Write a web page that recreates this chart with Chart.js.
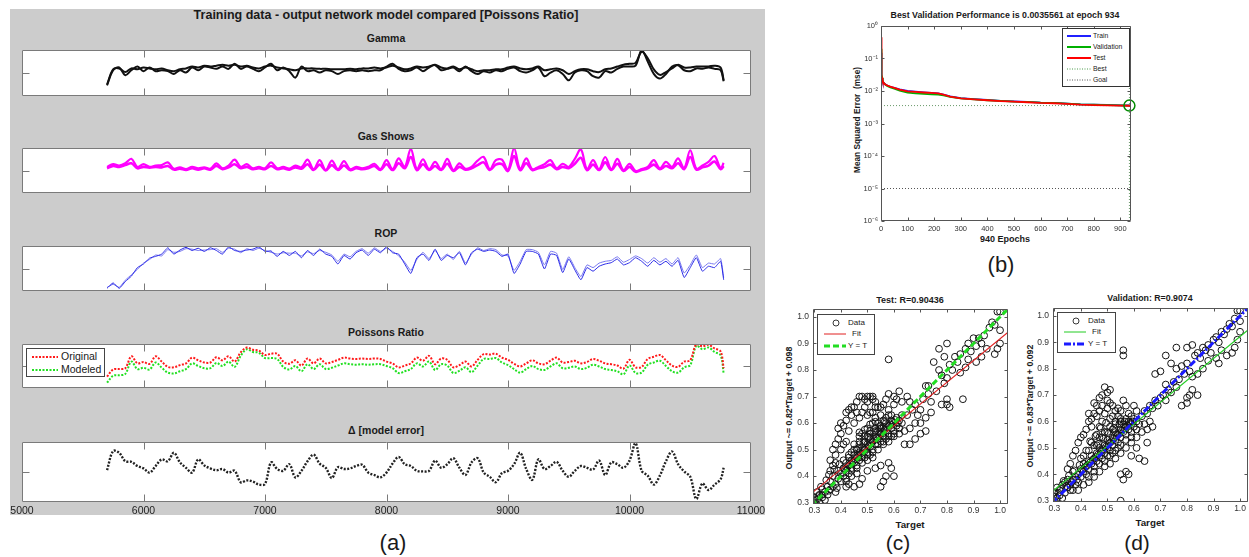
<!DOCTYPE html>
<html><head><meta charset="utf-8">
<script src="https://cdn.jsdelivr.net/npm/chart.js@4.4.1/dist/chart.umd.min.js"></script>
<style>
html,body{margin:0;padding:0;background:#fff;}
body{width:1249px;height:557px;position:relative;overflow:hidden;font-family:"Liberation Sans",Arial,Helvetica,sans-serif;color:#1a1a1a;}
canvas{position:absolute;}
.c{position:absolute;transform:translate(-50%,-50%);white-space:nowrap;}
.b{font-weight:bold;}
.lg{position:absolute;background:#fff;border:1px solid #444;z-index:5;}
.lg div{position:absolute;white-space:nowrap;}
.lg svg{position:absolute;left:0;top:0;}
.rot{position:absolute;transform:translate(-50%,-50%) rotate(-90deg);white-space:nowrap;font-weight:bold;}
</style></head><body>
<div style="position:absolute;left:10px;top:9px;width:755px;height:506px;background:#cccccc"></div>
<div class="c b" style="left:386px;top:15px;font-size:12.5px">Training data - output network model compared [Poissons Ratio]</div>
<div class="c b" style="left:386px;top:38px;font-size:10.5px">Gamma</div>
<div class="c b" style="left:386px;top:136px;font-size:10.5px">Gas Shows</div>
<div class="c b" style="left:386px;top:233px;font-size:10.5px">ROP</div>
<div class="c b" style="left:386px;top:332px;font-size:10.5px">Poissons Ratio</div>
<div class="c b" style="left:386px;top:430px;font-size:10.5px">Δ [model error]</div>
<div class="c" style="left:393px;top:543px;font-size:22px">(a)</div>

<div class="lg" style="left:26px;top:348px;width:77px;height:27px">
 <svg width="77" height="27"><line x1="5" y1="8" x2="31" y2="8" stroke="#ff1a1a" stroke-width="2" stroke-dasharray="2,1.5"/><line x1="5" y1="21" x2="31" y2="21" stroke="#22e022" stroke-width="2" stroke-dasharray="2,1.5"/></svg>
 <div style="left:34px;top:1px;font-size:10.5px;line-height:13px">Original</div>
 <div style="left:34px;top:14px;font-size:10.5px;line-height:13px">Modeled</div>
</div>

<div class="c b" style="left:1005px;top:15px;font-size:8.8px">Best Validation Performance is 0.0035561 at epoch 934</div>
<div class="c b" style="left:1005px;top:239px;font-size:9px">940 Epochs</div>
<div class="rot" style="left:857px;top:120px;font-size:8.3px">Mean Squared Error&nbsp;&nbsp;(mse)</div>
<div class="c" style="left:1001px;top:265px;font-size:22px">(b)</div>
<div class="lg" style="left:1062px;top:28px;width:66px;height:57px;border-color:#333">
 <svg width="66" height="57">
  <line x1="4" y1="7" x2="28" y2="7" stroke="#2020ff" stroke-width="2"/>
  <line x1="4" y1="18" x2="28" y2="18" stroke="#00b000" stroke-width="2"/>
  <line x1="4" y1="29" x2="28" y2="29" stroke="#ff0000" stroke-width="2"/>
  <line x1="4" y1="40" x2="28" y2="40" stroke="#4a9a4a" stroke-width="1" stroke-dasharray="1,1.5"/>
  <line x1="4" y1="51" x2="28" y2="51" stroke="#555" stroke-width="1" stroke-dasharray="1,1.5"/>
 </svg>
 <div style="left:30px;top:2px;font-size:6.8px;line-height:9px">Train</div>
 <div style="left:30px;top:13px;font-size:6.8px;line-height:9px">Validation</div>
 <div style="left:30px;top:24px;font-size:6.8px;line-height:9px">Test</div>
 <div style="left:30px;top:35px;font-size:6.8px;line-height:9px">Best</div>
 <div style="left:30px;top:46px;font-size:6.8px;line-height:9px">Goal</div>
</div>

<div class="c b" style="left:910px;top:300px;font-size:9px">Test: R=0.90436</div>
<div class="c b" style="left:910px;top:524px;font-size:9.8px">Target</div>
<div class="rot" style="left:789px;top:408px;font-size:8.8px">Output ~= 0.82*Target + 0.098</div>
<div class="c" style="left:898px;top:543px;font-size:21px">(c)</div>
<div class="lg" style="left:817px;top:314px;width:56px;height:39px">
 <svg width="56" height="39">
  <circle cx="18" cy="8" r="3" fill="none" stroke="#222" stroke-width="0.9"/>
  <line x1="6" y1="19" x2="28" y2="19" stroke="#e02020" stroke-width="1"/>
  <line x1="6" y1="31" x2="28" y2="31" stroke="#22dd22" stroke-width="3" stroke-dasharray="6,3"/>
 </svg>
 <div style="left:30px;top:3px;font-size:8px;line-height:10px">Data</div>
 <div style="left:34px;top:14px;font-size:8px;line-height:10px">Fit</div>
 <div style="left:30px;top:26px;font-size:8px;line-height:10px">Y = T</div>
</div>

<div class="c b" style="left:1150px;top:298px;font-size:8.8px">Validation: R=0.9074</div>
<div class="c b" style="left:1150px;top:522px;font-size:9.8px">Target</div>
<div class="rot" style="left:1030px;top:406px;font-size:8.8px">Output ~= 0.83*Target + 0.092</div>
<div class="c" style="left:1137px;top:543px;font-size:21px">(d)</div>
<div class="lg" style="left:1057px;top:312px;width:57px;height:39px">
 <svg width="57" height="39">
  <circle cx="18" cy="8" r="3" fill="none" stroke="#222" stroke-width="0.9"/>
  <line x1="6" y1="19" x2="28" y2="19" stroke="#22cc22" stroke-width="1"/>
  <line x1="6" y1="31" x2="28" y2="31" stroke="#1a1aff" stroke-width="3" stroke-dasharray="7,2,2,2"/>
 </svg>
 <div style="left:30px;top:3px;font-size:8px;line-height:10px">Data</div>
 <div style="left:34px;top:14px;font-size:8px;line-height:10px">Fit</div>
 <div style="left:30px;top:26px;font-size:8px;line-height:10px">Y = T</div>
</div>

<script>
// ---------------- DATA ----------------
const depth = [
 5700,5750,5800,5850,5900,5950,6000,6050,6100,6150,
 6200,6250,6300,6350,6400,6450,6500,6550,6600,6650,
 6700,6750,6800,6850,6900,6950,7000,7050,7100,7150,
 7200,7250,7300,7350,7400,7450,7500,7550,7600,7650,
 7700,7750,7800,7850,7900,7950,8000,8050,8100,8150,
 8200,8250,8300,8350,8400,8450,8500,8550,8600,8650,
 8700,8750,8800,8850,8900,8950,9000,9050,9100,9150,
 9200,9250,9300,9350,9400,9450,9500,9550,9600,9650,
 9700,9750,9800,9850,9900,9950,10000,10050,10100,10150,
 10200,10250,10300,10350,10400,10450,10500,10550,10600,10650,
 10700,10750,10775];
const depthTicks = [6000,7000,8000,9000,10000];
const depthLabels = [5000,6000,7000,8000,9000,10000,11000];

const gammaOrig = [
 23,56,62,45,56,64,54,62,54,56,
 54,48,56,51,62,56,64,62,59,64,
 59,70,59,64,59,54,62,70,56,62,
 54,40,64,54,56,51,56,54,48,54,
 56,54,56,54,56,56,64,70,59,54,
 56,62,54,62,67,56,59,62,54,64,
 54,48,54,51,56,54,59,62,54,51,
 56,62,43,51,56,48,34,51,56,54,
 43,40,54,51,59,64,64,66,100,75,
 48,38,48,64,67,56,54,60,59,62,
 59,56,32];
const gammaModel = [
 25,58,60,52,60,58,62,60,58,60,
 56,54,58,60,64,62,66,64,66,68,
 66,68,64,66,62,60,64,66,62,60,
 58,56,60,60,60,59,59,58,58,58,
 59,58,60,60,62,60,62,66,62,58,
 60,64,62,64,68,62,60,64,58,62,
 58,54,56,56,58,58,62,64,60,58,
 60,64,56,58,60,56,48,54,58,58,
 54,52,58,60,64,68,70,72,96,82,
 58,46,52,60,68,62,62,64,64,64,
 66,62,34];
const gasOrig = [
 58,64,61,66,76,58,64,58,61,62,
 68,54,57,53,58,55,57,54,66,55,
 61,74,58,64,55,58,55,68,55,58,
 54,61,57,74,53,73,51,72,53,71,
 53,58,55,58,65,53,73,53,77,58,
 98,53,75,53,69,53,76,51,66,54,
 58,72,80,53,73,74,51,99,53,77,
 53,58,64,73,55,65,58,76,97,53,
 73,53,80,53,76,51,65,49,53,58,
 73,55,69,58,77,55,95,54,61,69,
 82,55,67];
const gasModel = [
 55,60,58,62,66,55,58,56,58,57,
 60,52,54,51,55,52,55,52,60,53,
 57,64,55,58,53,55,53,60,53,55,
 52,57,54,64,51,63,50,62,51,61,
 51,55,53,55,60,51,64,51,66,55,
 80,51,64,51,60,51,65,49,58,52,
 55,62,68,51,63,64,49,82,51,66,
 51,55,58,63,53,58,55,65,78,51,
 63,51,68,51,65,49,58,47,51,55,
 63,53,60,55,66,53,80,52,57,61,
 70,53,60];
const ropOrig = [
 6,18,6,21,33,52,60,73,77,82,
 96,82,91,97,90,95,88,96,90,82,
 98,90,88,91,93,98,88,89,77,88,
 79,88,74,90,79,93,82,77,60,79,
 71,85,91,79,93,85,98,85,82,60,
 39,74,82,68,93,68,79,74,85,58,
 85,93,88,91,88,77,82,39,60,88,
 88,82,49,82,79,41,71,47,25,52,
 44,55,60,63,71,58,63,74,66,55,
 68,58,66,55,68,30,52,74,44,55,
 52,66,25];
const ropModel = [
 8,15,8,24,36,48,62,70,80,78,
 92,86,88,94,93,90,91,92,94,86,
 95,93,85,94,90,95,90,86,82,85,
 84,84,78,87,83,90,86,80,66,82,
 76,88,94,84,96,88,95,88,78,64,
 46,70,86,72,90,72,82,70,88,62,
 82,96,90,94,92,80,78,46,66,92,
 92,86,58,88,84,48,76,52,32,58,
 52,62,66,68,76,64,70,78,72,62,
 74,64,72,60,74,40,58,80,52,62,
 60,72,30];
const poissonOrig = [
 26,42,43,45,72,56,59,55,72,60,
 48,47,52,56,69,63,58,58,70,63,
 72,60,81,92,87,85,75,78,78,60,
 55,63,51,67,56,67,56,59,64,69,
 67,66,67,66,67,66,60,56,47,51,
 56,69,62,73,54,67,64,47,52,60,
 49,64,77,76,78,69,64,55,49,56,
 63,56,54,62,69,58,59,62,56,59,
 66,62,56,54,51,44,64,47,48,66,
 71,75,63,51,48,60,63,100,95,98,
 90,83,45];
const poissonModel = [
 12,28,29,32,60,43,46,42,58,46,
 35,33,38,43,56,50,45,45,57,50,
 60,48,73,88,82,80,68,68,66,48,
 42,50,38,54,43,54,43,46,51,56,
 54,53,54,53,54,54,50,45,34,38,
 43,56,49,60,41,54,51,34,39,47,
 36,51,66,66,68,58,52,43,35,43,
 50,43,41,49,56,45,46,49,43,46,
 53,49,43,41,38,31,51,34,35,53,
 58,62,50,38,35,47,52,96,88,92,
 82,74,33];
const modelError = [
 53,85,82,68,67,60,56,49,60,71,
 68,82,66,57,49,71,61,56,53,55,
 49,52,33,36,34,29,30,66,55,52,
 63,41,52,68,79,64,57,40,58,55,
 56,60,62,49,45,41,49,64,75,63,
 60,52,51,52,69,57,63,73,57,45,
 66,73,49,42,33,48,52,63,82,55,
 37,71,55,60,67,52,42,52,60,57,
 54,69,45,66,63,57,69,98,52,44,
 29,44,68,84,63,51,42,5,31,20,
 29,38,57];

// (b) training performance
const epochs = [0,1,2,3,4,6,8,12,18,25,35,50,70,100,130,160,190,215,235,260,300,350,400,450,500,550,600,650,700,750,800,850,900,934,940];
const perfTrain = [0.15,0.08,0.045,0.03,0.025,0.021,0.019,0.017,0.0155,0.0145,0.0135,0.0125,0.0112,0.0100,0.0095,0.0091,0.0088,0.0085,0.0078,0.0068,0.0060,0.0056,0.0053,0.0050,0.0048,0.0046,0.0044,0.0043,0.0041,0.0039,0.0038,0.00372,0.00362,0.00358,0.00357];
const perfVal = [0.2,0.09,0.05,0.032,0.026,0.021,0.019,0.0168,0.0152,0.014,0.013,0.0118,0.0102,0.0089,0.0084,0.0081,0.0079,0.0077,0.0073,0.0066,0.0059,0.0055,0.0052,0.0050,0.0047,0.0046,0.0044,0.0043,0.0041,0.0039,0.0038,0.0037,0.0036,0.0035561,0.00356];
const perfTest = [0.45,0.12,0.05,0.03,0.025,0.021,0.019,0.017,0.0156,0.0146,0.0136,0.0124,0.011,0.0098,0.0094,0.009,0.0087,0.0084,0.0077,0.0067,0.0059,0.0055,0.0052,0.0049,0.0047,0.0045,0.0043,0.0042,0.0040,0.0038,0.0037,0.0036,0.00355,0.00352,0.00351];
const bestEpoch = 934, bestPerf = 0.0035561, goalPerf = 1e-5;
const epochTicks = [0,100,200,300,400,500,600,700,800,900];
const mseTicks = [1e-6,1e-5,1e-4,1e-3,1e-2,1e-1,1];

// (c) test regression
const testPoints = [
 [0.30,0.30],[0.30,0.32],[0.31,0.31],[0.31,0.34],[0.32,0.30],[0.32,0.33],[0.33,0.32],[0.33,0.35],[0.34,0.31],[0.34,0.34],
 [0.35,0.36],[0.35,0.33],[0.36,0.35],[0.36,0.38],[0.37,0.36],[0.37,0.40],[0.38,0.37],[0.38,0.34],[0.39,0.39],[0.39,0.42],
 [0.40,0.38],[0.40,0.41],[0.41,0.43],[0.41,0.40],[0.42,0.42],[0.42,0.45],[0.43,0.41],[0.43,0.44],[0.44,0.46],[0.44,0.43],
 [0.45,0.45],[0.45,0.48],[0.46,0.47],[0.46,0.44],[0.47,0.49],[0.47,0.46],[0.48,0.48],[0.48,0.51],[0.49,0.50],[0.49,0.47],
 [0.50,0.52],[0.50,0.49],[0.51,0.51],[0.51,0.54],[0.52,0.50],[0.52,0.53],[0.53,0.55],[0.53,0.52],[0.54,0.54],[0.54,0.57],
 [0.55,0.53],[0.55,0.56],[0.56,0.58],[0.56,0.55],[0.57,0.57],[0.57,0.60],[0.58,0.56],[0.58,0.59],[0.59,0.58],[0.59,0.61],
 [0.60,0.60],[0.60,0.57],[0.61,0.62],[0.61,0.59],[0.62,0.61],[0.62,0.58],[0.63,0.60],[0.63,0.63],
 [0.45,0.52],[0.47,0.55],[0.48,0.56],[0.50,0.58],[0.52,0.60],[0.53,0.62],[0.55,0.63],[0.56,0.61],[0.58,0.63],[0.50,0.55],
 [0.49,0.53],[0.51,0.57],[0.54,0.60],[0.46,0.50],[0.44,0.49],[0.43,0.48],[0.42,0.39],[0.44,0.40],[0.46,0.41],[0.48,0.45],
 [0.50,0.46],[0.52,0.47],[0.54,0.50],[0.56,0.52],[0.58,0.53],[0.60,0.55],[0.62,0.56],[0.64,0.57],[0.66,0.58],[0.68,0.60],
 [0.55,0.59],[0.57,0.54],[0.59,0.55],[0.53,0.58],[0.51,0.48],[0.47,0.52],
 [0.45,0.66],[0.46,0.68],[0.47,0.70],[0.48,0.70],[0.49,0.69],[0.50,0.68],[0.51,0.70],[0.52,0.69],[0.53,0.66],[0.44,0.63],
 [0.43,0.65],[0.42,0.61],[0.41,0.59],[0.40,0.56],[0.39,0.54],[0.38,0.52],[0.37,0.50],[0.36,0.46],[0.38,0.48],[0.40,0.50],
 [0.42,0.53],[0.43,0.57],[0.45,0.60],[0.48,0.64],[0.50,0.63],[0.52,0.64],[0.54,0.66],[0.56,0.67],[0.58,0.71],[0.58,0.84],
 [0.60,0.67],[0.62,0.72],[0.63,0.68],
 [0.45,0.36],[0.47,0.37],[0.48,0.39],[0.50,0.42],[0.53,0.43],[0.55,0.36],[0.56,0.38],[0.57,0.40],[0.59,0.43],[0.60,0.40],
 [0.58,0.45],[0.55,0.44],[0.43,0.37],[0.42,0.36],[0.64,0.52],[0.66,0.52],[0.68,0.54],[0.70,0.56],[0.72,0.57],[0.70,0.60],
 [0.72,0.62],[0.74,0.64],
 [0.65,0.63],[0.67,0.65],[0.68,0.67],[0.70,0.65],[0.71,0.69],[0.72,0.74],[0.73,0.71],[0.74,0.68],[0.76,0.72],[0.77,0.80],
 [0.78,0.78],[0.79,0.75],[0.80,0.77],[0.81,0.82],[0.82,0.80],[0.83,0.85],[0.84,0.83],[0.85,0.86],[0.86,0.69],[0.80,0.69],
 [0.80,0.67],[0.81,0.66],[0.78,0.67],[0.79,0.85],[0.77,0.88],[0.80,0.90],[0.75,0.83],[0.73,0.74],[0.69,0.63],[0.66,0.68],
 [0.65,0.70],
 [0.87,0.88],[0.88,0.90],[0.89,0.87],[0.90,0.92],[0.91,0.89],[0.92,0.92],[0.93,0.90],[0.94,0.93],[0.95,0.88],[0.96,0.96],
 [0.97,0.98],[0.98,0.97],[0.99,1.02],[1.00,1.02],[1.00,0.95],[1.00,0.90],[0.99,0.88],[0.98,0.86],[0.93,0.85],[0.91,0.83],
 [0.87,0.81],[0.85,0.79],[0.88,0.84],
 [0.405,0.415],[0.415,0.425],[0.425,0.435],[0.435,0.445],[0.445,0.455],[0.455,0.465],[0.465,0.475],[0.475,0.485],[0.485,0.495],[0.495,0.505],
 [0.505,0.515],[0.515,0.525],[0.525,0.535],[0.535,0.545],[0.545,0.555],[0.555,0.565],[0.565,0.575],[0.575,0.585],[0.585,0.595],[0.595,0.605],
 [0.605,0.612],[0.615,0.60],[0.41,0.46],[0.43,0.47],[0.45,0.50],[0.47,0.53],[0.49,0.55],[0.51,0.56],[0.53,0.57],[0.55,0.58],
 [0.57,0.62],[0.59,0.63],[0.42,0.38],[0.44,0.42],[0.46,0.43],[0.48,0.47],[0.50,0.48],[0.52,0.49],[0.54,0.52],[0.56,0.53],
 [0.58,0.55],[0.60,0.56],[0.465,0.505],[0.485,0.525],[0.505,0.545],[0.525,0.565],[0.545,0.585],[0.565,0.605],[0.49,0.575],[0.51,0.595],
 [0.53,0.605],[0.47,0.565],[0.395,0.445],[0.375,0.425],[0.355,0.405],[0.345,0.385],[0.325,0.36],[0.315,0.325],[0.305,0.31],[0.33,0.33],
 [0.355,0.345],[0.385,0.355],[0.44,0.66],[0.46,0.64],[0.47,0.62],[0.49,0.66],[0.51,0.64],[0.53,0.68],[0.55,0.66],[0.42,0.64],
 [0.40,0.60],[0.39,0.58],[0.41,0.52],[0.38,0.45],[0.36,0.42],[0.37,0.44],[0.58,0.65],[0.60,0.70],[0.61,0.69],[0.57,0.69],
 [0.52,0.70],[0.50,0.70]];
const testFitX = [0.29, 1.03], testFitY = [0.3358, 0.9426];
const identityX = [0.29, 1.03], identityY = [0.29, 1.03];

// (d) validation regression
const valPoints = [
 [0.30,0.30],[0.30,0.33],[0.31,0.31],[0.31,0.35],[0.32,0.32],[0.32,0.34],[0.33,0.31],[0.33,0.36],[0.34,0.33],[0.34,0.37],
 [0.35,0.35],[0.35,0.38],[0.36,0.36],[0.36,0.34],[0.37,0.38],[0.37,0.41],[0.38,0.39],[0.38,0.36],[0.39,0.40],[0.39,0.37],
 [0.40,0.42],[0.40,0.39],[0.41,0.41],[0.41,0.44],[0.42,0.43],[0.42,0.40],[0.43,0.45],[0.43,0.42],[0.44,0.44],[0.44,0.47],
 [0.45,0.46],[0.45,0.43],[0.46,0.48],[0.46,0.45],[0.47,0.47],[0.47,0.50],[0.48,0.49],[0.48,0.46],[0.49,0.51],[0.49,0.48],
 [0.50,0.50],[0.50,0.53],[0.51,0.52],[0.51,0.49],[0.52,0.54],[0.52,0.51],[0.53,0.53],[0.53,0.56],[0.54,0.55],[0.54,0.52],
 [0.55,0.57],[0.55,0.54],[0.56,0.56],[0.56,0.59],[0.57,0.58],[0.57,0.55],[0.58,0.60],[0.58,0.57],[0.59,0.59],[0.59,0.56],
 [0.60,0.61],[0.60,0.58],[0.61,0.60],[0.62,0.59],
 [0.40,0.46],[0.42,0.49],[0.44,0.52],[0.46,0.55],[0.47,0.58],[0.48,0.60],[0.49,0.63],[0.50,0.65],[0.45,0.63],[0.46,0.66],
 [0.47,0.69],[0.48,0.70],[0.49,0.73],[0.50,0.71],[0.51,0.67],[0.52,0.66],[0.53,0.64],[0.54,0.62],[0.55,0.64],[0.56,0.68],
 [0.57,0.66],[0.58,0.63],[0.60,0.66],[0.61,0.64],[0.43,0.60],[0.42,0.57],[0.41,0.55],[0.39,0.52],[0.38,0.49],[0.37,0.47],
 [0.36,0.44],[0.35,0.42],[0.40,0.54],[0.44,0.58],[0.51,0.61],[0.53,0.59],[0.55,0.61],[0.52,0.57],[0.50,0.56],[0.48,0.54],
 [0.46,0.51],[0.56,0.87],[0.56,0.85],
 [0.37,0.34],[0.39,0.34],[0.41,0.36],[0.43,0.37],[0.45,0.39],[0.47,0.41],[0.49,0.43],[0.51,0.44],[0.53,0.46],[0.55,0.48],
 [0.57,0.50],[0.59,0.52],[0.61,0.54],[0.63,0.56],[0.65,0.57],[0.67,0.58],[0.66,0.60],[0.64,0.59],[0.55,0.40],[0.56,0.38],
 [0.57,0.41],[0.58,0.40],[0.55,0.30],[0.62,0.46],[0.64,0.45],[0.65,0.52],[0.61,0.50],[0.59,0.47],[0.50,0.47],[0.52,0.48],
 [0.54,0.50],
 [0.63,0.62],[0.64,0.64],[0.65,0.63],[0.66,0.66],[0.67,0.65],[0.68,0.68],[0.69,0.66],[0.70,0.69],[0.71,0.70],[0.72,0.68],
 [0.72,0.74],[0.73,0.72],[0.74,0.71],[0.75,0.75],[0.76,0.73],[0.77,0.76],[0.68,0.78],[0.70,0.79],[0.72,0.85],[0.74,0.82],
 [0.76,0.80],[0.78,0.81],[0.79,0.78],[0.80,0.82],[0.81,0.79],[0.80,0.69],[0.80,0.67],[0.81,0.70],[0.78,0.66],[0.82,0.72],
 [0.84,0.70],[0.76,0.88],[0.80,0.88],[0.83,0.85],[0.82,0.89],[0.84,0.86],
 [0.85,0.84],[0.86,0.88],[0.87,0.87],[0.88,0.89],[0.89,0.86],[0.90,0.91],[0.91,0.92],[0.92,0.90],[0.93,0.94],[0.94,0.93],
 [0.95,0.95],[0.96,0.97],[0.97,0.96],[0.98,0.99],[0.99,1.02],[1.00,1.02],[1.00,0.98],[1.00,0.94],[0.99,0.91],[0.98,0.88],
 [0.97,0.86],[0.95,0.85],[0.93,0.87],[0.92,0.82],[0.91,0.84],[0.88,0.83],[0.86,0.80],[0.84,0.78],[0.82,0.77],
 [0.405,0.415],[0.415,0.425],[0.425,0.435],[0.435,0.445],[0.445,0.455],[0.455,0.465],[0.465,0.475],[0.475,0.485],[0.485,0.495],[0.495,0.505],
 [0.505,0.515],[0.515,0.525],[0.525,0.535],[0.535,0.545],[0.545,0.555],[0.555,0.565],[0.565,0.575],[0.575,0.585],[0.585,0.595],[0.595,0.60],
 [0.41,0.47],[0.43,0.49],[0.45,0.51],[0.47,0.54],[0.49,0.56],[0.51,0.58],[0.53,0.60],[0.55,0.60],[0.57,0.61],[0.59,0.62],
 [0.43,0.39],[0.45,0.41],[0.47,0.44],[0.49,0.45],[0.51,0.47],[0.53,0.49],[0.55,0.51],[0.57,0.53],[0.59,0.54],[0.61,0.57],
 [0.465,0.515],[0.485,0.535],[0.505,0.555],[0.525,0.575],[0.545,0.59],[0.565,0.60],[0.475,0.575],[0.495,0.595],[0.455,0.545],[0.435,0.525],
 [0.395,0.435],[0.375,0.415],[0.355,0.395],[0.335,0.375],[0.325,0.345],[0.315,0.33],[0.305,0.315],[0.345,0.355],[0.365,0.37],[0.385,0.38],
 [0.44,0.61],[0.46,0.62],[0.48,0.66],[0.50,0.68],[0.52,0.62],[0.54,0.65],[0.47,0.64],[0.45,0.67],[0.43,0.63],[0.51,0.72]];
const valFitX = [0.29, 1.03], valFitY = [0.3327, 0.9469];
const regTicks = [0.3,0.4,0.5,0.6,0.7,0.8,0.9,1];

// ---------------- RENDERING ----------------
const F = '"Liberation Sans", Arial, Helvetica, sans-serif';
Chart.defaults.font.family = F;
Chart.defaults.color = '#222';

const frame = {
  id: 'frame',
  beforeDraw(chart, args, o) {
    const {ctx, chartArea: a} = chart;
    ctx.save(); ctx.fillStyle = o.bg || '#fff';
    ctx.fillRect(a.left, a.top, a.right - a.left, a.bottom - a.top);
    ctx.restore();
  },
  afterDraw(chart, args, o) {
    const {ctx, chartArea: a, scales} = chart;
    ctx.save(); ctx.strokeStyle = o.color || '#555'; ctx.lineWidth = 1;
    const L = Math.round(a.left) + 0.5, R = Math.round(a.right) - 0.5, T = Math.round(a.top) + 0.5, B = Math.round(a.bottom) - 0.5;
    ctx.beginPath();
    ctx.rect(L, T, R - L, B - T);
    (o.xTicks || []).forEach(v => { const p = Math.round(scales.x.getPixelForValue(v)) + 0.5; ctx.moveTo(p, T); ctx.lineTo(p, T + o.len); ctx.moveTo(p, B); ctx.lineTo(p, B - o.len); });
    (o.yTicks || []).forEach(v => { const p = Math.round(scales.y.getPixelForValue(v)) + 0.5; ctx.moveTo(L, p); ctx.lineTo(L + o.len, p); ctx.moveTo(R, p); ctx.lineTo(R - o.len, p); });
    ctx.stroke(); ctx.restore();
  }
};

function addCanvas(l, t, w, h) {
  const c = document.createElement('canvas');
  c.width = w; c.height = h;
  c.style.left = l + 'px'; c.style.top = t + 'px';
  c.style.width = w + 'px'; c.style.height = h + 'px';
  document.body.appendChild(c);
  return c;
}
const pts = ys => depth.map((d, i) => ({x: d, y: ys[i]}));
const pairs = (xs, ys) => xs.map((x, i) => ({x, y: ys[i]}));

function subplot(box, datasets, showX) {
  const padL = 18, padR = 20, padT = 3, padB = showX ? 19 : 3;
  const cv = addCanvas(box.l - padL, box.t - padT, box.w + padL + padR, box.h + padT + padB);
  new Chart(cv, {
    type: 'line',
    data: {datasets},
    options: {
      responsive: false, animation: false, devicePixelRatio: 1,
      layout: {padding: {left: padL, right: padR, top: padT, bottom: showX ? 3 : padB}},
      plugins: {legend: {display: false}, tooltip: {enabled: false},
        frame: {xTicks: depthTicks, yTicks: [50], len: 7, color: '#7a7a7a'}},
      elements: {point: {radius: 0}, line: {tension: 0.35}},
      scales: {
        x: {type: 'linear', min: 5000, max: 11000, display: showX,
            grid: {display: false, drawTicks: false}, border: {display: false},
            afterFit: s => { s.height = 16; },
            afterBuildTicks: s => { s.ticks = depthLabels.map(v => ({value: v})); },
            ticks: {autoSkip: false, maxRotation: 0, padding: 3, color: '#222', font: {size: 10.5},
                    callback: v => String(v)}},
        y: {min: 0, max: 100, display: false}
      }
    },
    plugins: [frame]
  });
}

const X0 = 22, W = 729;
subplot({l: X0, t: 50, w: W, h: 62}, [
  {data: pts(gammaOrig), borderColor: '#111', borderWidth: 2},
  {data: pts(gammaModel), borderColor: '#111', borderWidth: 2}
], false);
subplot({l: X0, t: 148, w: W, h: 61}, [
  {data: pts(gasOrig), borderColor: '#ff00ff', borderWidth: 2.2},
  {data: pts(gasModel), borderColor: '#ff00ff', borderWidth: 2.6}
], false);
subplot({l: X0, t: 246, w: W, h: 61}, [
  {data: pts(ropOrig), borderColor: '#2a2ae8', borderWidth: 1, tension: 0.15},
  {data: pts(ropModel), borderColor: '#7878f0', borderWidth: 1, tension: 0.15}
], false);
subplot({l: X0, t: 344, w: W, h: 60}, [
  {data: pts(poissonOrig), borderColor: '#ff1a1a', borderWidth: 2, borderDash: [2, 1.5]},
  {data: pts(poissonModel), borderColor: '#22e022', borderWidth: 2, borderDash: [2, 1.5]}
], false);
subplot({l: X0, t: 442, w: W, h: 60}, [
  {data: pts(modelError), borderColor: '#222', borderWidth: 2.4, borderDash: [2, 1.5]}
], true);

// (b)
const sup = {'-': '⁻', '0': '⁰', '1': '¹', '2': '²', '3': '³', '4': '⁴', '5': '⁵', '6': '⁶'};
(function () {
  const cv = addCanvas(845, 18, 300, 224);
  new Chart(cv, {
    type: 'line',
    data: {datasets: [
      {data: [{x: bestEpoch, y: bestPerf}], showLine: false, pointRadius: 5.5, pointBorderWidth: 1.5,
       pointBorderColor: '#008a00', pointBackgroundColor: 'rgba(0,0,0,0)', clip: false, order: 0},
      {data: pairs(epochs, perfTest), borderColor: '#ff0000', borderWidth: 1.8, order: 1},
      {data: pairs(epochs, perfVal), borderColor: '#00b000', borderWidth: 1.8, order: 2},
      {data: pairs(epochs, perfTrain), borderColor: '#2020ff', borderWidth: 1.8, order: 3},
      {data: [{x: 0, y: bestPerf}, {x: 940, y: bestPerf}], borderColor: '#6a9a6a', borderWidth: 1, borderDash: [1, 2], order: 4},
      {data: [{x: bestEpoch, y: 1e-6}, {x: bestEpoch, y: 1}], borderColor: '#6a9a6a', borderWidth: 1, borderDash: [1, 2], order: 4},
      {data: [{x: 0, y: goalPerf}, {x: 940, y: goalPerf}], borderColor: '#555', borderWidth: 1, borderDash: [1, 2], order: 4}
    ]},
    options: {
      responsive: false, animation: false, devicePixelRatio: 1,
      layout: {padding: {left: 0, right: 14, top: 8, bottom: 0}},
      plugins: {legend: {display: false}, tooltip: {enabled: false},
        frame: {xTicks: epochTicks, yTicks: mseTicks, len: 3, color: '#555'}},
      elements: {point: {radius: 0}, line: {tension: 0}},
      scales: {
        x: {type: 'linear', min: 0, max: 940, grid: {display: false, drawTicks: false}, border: {display: false},
            afterFit: s => { s.height = 21; },
            afterBuildTicks: s => { s.ticks = epochTicks.map(v => ({value: v})); },
            ticks: {autoSkip: false, maxRotation: 0, padding: 3, color: '#333', font: {size: 7.5}}},
        y: {type: 'logarithmic', min: 1e-6, max: 1, grid: {display: false, drawTicks: false}, border: {display: false},
            afterFit: s => { s.width = 36; },
            afterBuildTicks: s => { s.ticks = mseTicks.map(v => ({value: v})); },
            ticks: {autoSkip: false, padding: 3, color: '#333', font: {size: 7.5},
              callback: v => '10' + String(Math.round(Math.log10(v))).split('').map(ch => sup[ch]).join('')}}
      }
    },
    plugins: [frame]
  });
})();

function regression(l, t, w, h, points, fitY, fitColor, idDash, idColor, fitX) {
  const cv = addCanvas(l, t, w, h);
  new Chart(cv, {
    type: 'scatter',
    data: {datasets: [
      {type: 'line', data: pairs(identityX, identityY), borderColor: idColor, borderWidth: 3, borderDash: idDash, pointRadius: 0, order: 0},
      {type: 'line', data: pairs(fitX, fitY), borderColor: fitColor, borderWidth: 1.1, pointRadius: 0, order: 1},
      {data: points.map(p => ({x: p[0], y: p[1]})), pointRadius: 3.4, pointBorderWidth: 1,
       pointBorderColor: '#151515', pointBackgroundColor: 'rgba(0,0,0,0)', order: 2}
    ]},
    options: {
      responsive: false, animation: false, devicePixelRatio: 1,
      layout: {padding: {left: 0, right: 7, top: 11, bottom: 0}},
      plugins: {legend: {display: false}, tooltip: {enabled: false},
        frame: {xTicks: regTicks, yTicks: regTicks, len: 3, color: '#555'}},
      scales: {
        x: {type: 'linear', min: 0.295, max: 1.03, grid: {display: false, drawTicks: false}, border: {display: false},
            afterFit: s => { s.height = 14; },
            afterBuildTicks: s => { s.ticks = regTicks.map(v => ({value: v})); },
            ticks: {autoSkip: false, maxRotation: 0, padding: 2, color: '#333', font: {size: 8.5}}},
        y: {type: 'linear', min: 0.295, max: 1.03, grid: {display: false, drawTicks: false}, border: {display: false},
            afterFit: s => { s.width = 28; },
            afterBuildTicks: s => { s.ticks = regTicks.map(v => ({value: v})); },
            ticks: {autoSkip: false, padding: 4, color: '#333', font: {size: 8.5}}}
      }
    },
    plugins: [frame]
  });
}
regression(785, 298, 230, 220, testPoints, testFitY, '#e02020', [6, 3], '#22dd22', testFitX);
regression(1025, 297, 230, 219, valPoints, valFitY, '#22cc22', [7, 2, 2, 2], '#1a1aff', valFitX);
</script>
</body></html>
